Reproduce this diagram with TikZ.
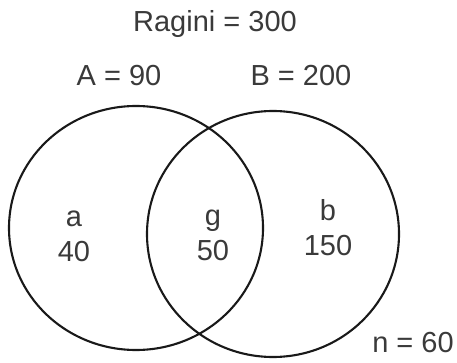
\documentclass[tikz,border=0pt]{standalone}
\usepackage{fontspec}
\setmainfont{Liberation Sans}
\usetikzlibrary{shapes.geometric}
\definecolor{txt}{HTML}{3A3A3A}
\tikzset{
  lbl/.style={font=\fontsize{29}{35}\selectfont, text=txt, inner sep=0pt},
  setA/.style={draw=black!90, line width=2.1pt, ellipse, inner sep=0pt},
}
\begin{document}
\begin{tikzpicture}[x=1pt,y=-1pt]
\useasboundingbox (0,0) rectangle (457,363);
\node[setA, minimum width=254pt, minimum height=244pt] (A) at (136,228) {};
\node[setA, minimum width=252pt, minimum height=246pt] (B) at (273,234) {};
\node[lbl] (title) at (215,24) {Ragini = 300};
\node[lbl] (Alab) at (119,76) {A = 90};
\node[lbl] (Blab) at (301,76) {B = 200};
\node[lbl, align=center] (a) at (74,236) {a\\40};
\node[lbl, align=center] (g) at (213,235) {g\\50};
\node[lbl, align=center] (b) at (328,228) {b\\150};
\node[lbl] (n) at (413,343) {n = 60};
\end{tikzpicture}
\end{document}
